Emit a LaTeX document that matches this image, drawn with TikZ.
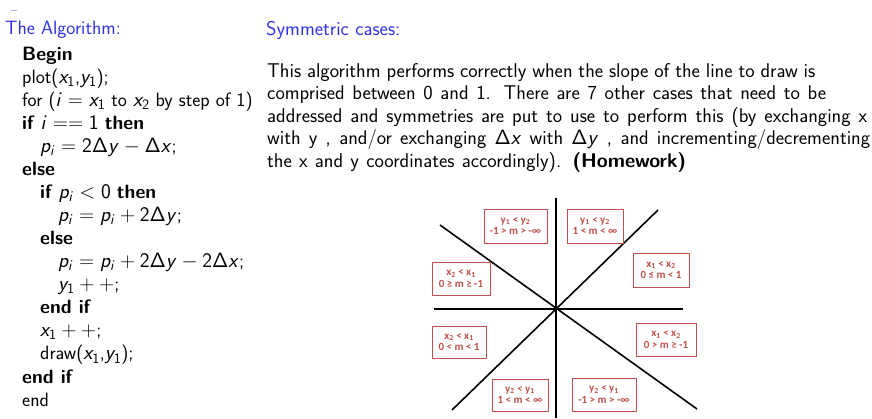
\documentclass[tikz,border=0pt]{standalone}
\usepackage[no-math]{fontspec}
\newfontfamily\boxfont{Carlito}
\DeclareSymbolFont{sfoperators}{OT1}{cmss}{m}{n}
\DeclareSymbolFont{sfletters}{OT1}{cmss}{m}{sl}
\DeclareMathSymbol{0}{\mathalpha}{sfoperators}{`0}
\DeclareMathSymbol{1}{\mathalpha}{sfoperators}{`1}
\DeclareMathSymbol{2}{\mathalpha}{sfoperators}{`2}
\DeclareMathSymbol{=}{\mathrel}{sfoperators}{`=}
\DeclareMathSymbol{+}{\mathbin}{sfoperators}{`+}
\DeclareMathSymbol{\Delta}{\mathalpha}{sfoperators}{1}
\DeclareMathSymbol{p}{\mathalpha}{sfletters}{`p}
\DeclareMathSymbol{i}{\mathalpha}{sfletters}{`i}
\DeclareMathSymbol{x}{\mathalpha}{sfletters}{`x}
\DeclareMathSymbol{y}{\mathalpha}{sfletters}{`y}
\definecolor{titleblue}{RGB}{50,50,230}
\definecolor{casered}{RGB}{192,80,77}
\newcommand\codefont{\sffamily\fontsize{19.3}{23}\selectfont}
\newcommand\parafont{\sffamily\fontsize{19.9}{23}\selectfont}
\newcommand\spreadline[2]{\makebox[#1pt][s]{#2}}
\tikzset{
  codeline/.style={anchor=base west, inner sep=0pt, font=\codefont, text=black},
  paraline/.style={anchor=base west, inner sep=0pt, font=\parafont, text=black},
  titleline/.style={anchor=base west, inner sep=0pt, font=\codefont, text=titleblue},
  casebox/.style={draw=casered, line width=0.8pt, text=casered, align=center,
    font=\boxfont\bfseries\fontsize{11}{11.8}\selectfont, inner sep=0pt},
  axis/.style={line width=1.6pt, black},
}
\begin{document}
\begin{tikzpicture}[x=1pt,y=-1pt]
\useasboundingbox (0,0) rectangle (872,418);
\fill[white] (0,0) rectangle (872,418);
\draw[blue!30, line width=1pt] (11,10) -- (17,10);
% left column
\node[titleline] (t1) at (5,34) {The Algorithm:};
\node[codeline] (l1) at (22,60) {\textbf{Begin}};
\node[codeline] (l2) at (22,83.1) {plot($x_1$,$y_1$);};
\node[codeline] (l3) at (22,106.1) {for ($i = x_1$ to $x_2$ by step of 1)};
\node[codeline] (l4) at (22,129.2) {\textbf{if} $i == 1$ \textbf{then}};
\node[codeline] (l5) at (40,152.3) {$p_i = 2\Delta y - \Delta x$;};
\node[codeline] (l6) at (22,175.4) {\textbf{else}};
\node[codeline] (l7) at (40,198.4) {\textbf{if} $p_i < 0$ \textbf{then}};
\node[codeline] (l8) at (58,221.5) {$p_i = p_i + 2\Delta y$;};
\node[codeline] (l9) at (40,244.6) {\textbf{else}};
\node[codeline] (l10) at (58,267.6) {$p_i = p_i + 2\Delta y - 2\Delta x$;};
\node[codeline] (l11) at (58,290.7) {$y_1 + +$;};
\node[codeline] (l12) at (40,313.8) {\textbf{end if}};
\node[codeline] (l13) at (40,336.8) {$x_1 + +$;};
\node[codeline] (l14) at (40,359.9) {draw($x_1$,$y_1$);};
\node[codeline] (l15) at (22,383) {\textbf{end if}};
\node[codeline] (l16) at (22,406) {end};
% right column
\node[titleline, font=\parafont] (t2) at (266,35) {Symmetric cases:};
\node[paraline] (p1) at (267,77) {\spreadline{548}{This algorithm performs correctly when the slope of the line to draw is}};
\node[paraline] (p2) at (267,99.5) {\spreadline{559}{comprised between 0 and 1. There are 7 other cases that need to be}};
\node[paraline] (p3) at (267,122) {\spreadline{600}{addressed and symmetries are put to use to perform this (by exchanging x}};
\node[paraline] (p4) at (267,144.5) {\spreadline{603}{with y , and/or exchanging $\Delta x$ with $\Delta y$ , and incrementing/decrementing}};
\node[paraline] (p5) at (267,167) {\spreadline{419}{the x and y coordinates accordingly). \textbf{(Homework)}}};
% diagram
\coordinate (O) at (556,309);
\coordinate (vT) at (556,198);
\coordinate (vB) at (556,418);
\coordinate (hL) at (434,309);
\coordinate (hR) at (683,309);
\coordinate (dNW) at (440,225);
\coordinate (dSE) at (697,409);
\coordinate (dSW) at (452,410);
\coordinate (dNE) at (658,210);
\draw[axis] (vT) -- (vB);
\draw[axis] (hL) -- (hR);
\draw[axis] (dNW) -- (dSE);
\draw[axis] (dSW) -- (dNE);
\node[casebox, minimum width=63pt, minimum height=34pt] (b1) at (515.5,226) {y\textsubscript{1} < y\textsubscript{2}\\-1 > m > -∞};
\node[casebox, minimum width=56pt, minimum height=34pt] (b2) at (595,226) {y\textsubscript{1} < y\textsubscript{2}\\1 < m < ∞};
\node[casebox, minimum width=58pt, minimum height=33pt] (b3) at (461,278.5) {x\textsubscript{2} < x\textsubscript{1}\\0 ≥ m ≥ -1};
\node[casebox, minimum width=56pt, minimum height=34pt] (b4) at (661,270) {x\textsubscript{1} < x\textsubscript{2}\\0 ≤ m < 1};
\node[casebox, minimum width=54pt, minimum height=32pt] (b5) at (459,342) {x\textsubscript{2} < x\textsubscript{1}\\0 < m < 1};
\node[casebox, minimum width=60pt, minimum height=33pt] (b6) at (666,339.5) {x\textsubscript{1} < x\textsubscript{2}\\0 > m ≥ -1};
\node[casebox, minimum width=56pt, minimum height=32pt] (b7) at (520,395) {y\textsubscript{2} < y\textsubscript{1}\\1 < m < ∞};
\node[casebox, minimum width=64pt, minimum height=33pt] (b8) at (604,394.5) {y\textsubscript{2} < y\textsubscript{1}\\-1 > m > -∞};
\end{tikzpicture}
\end{document}
